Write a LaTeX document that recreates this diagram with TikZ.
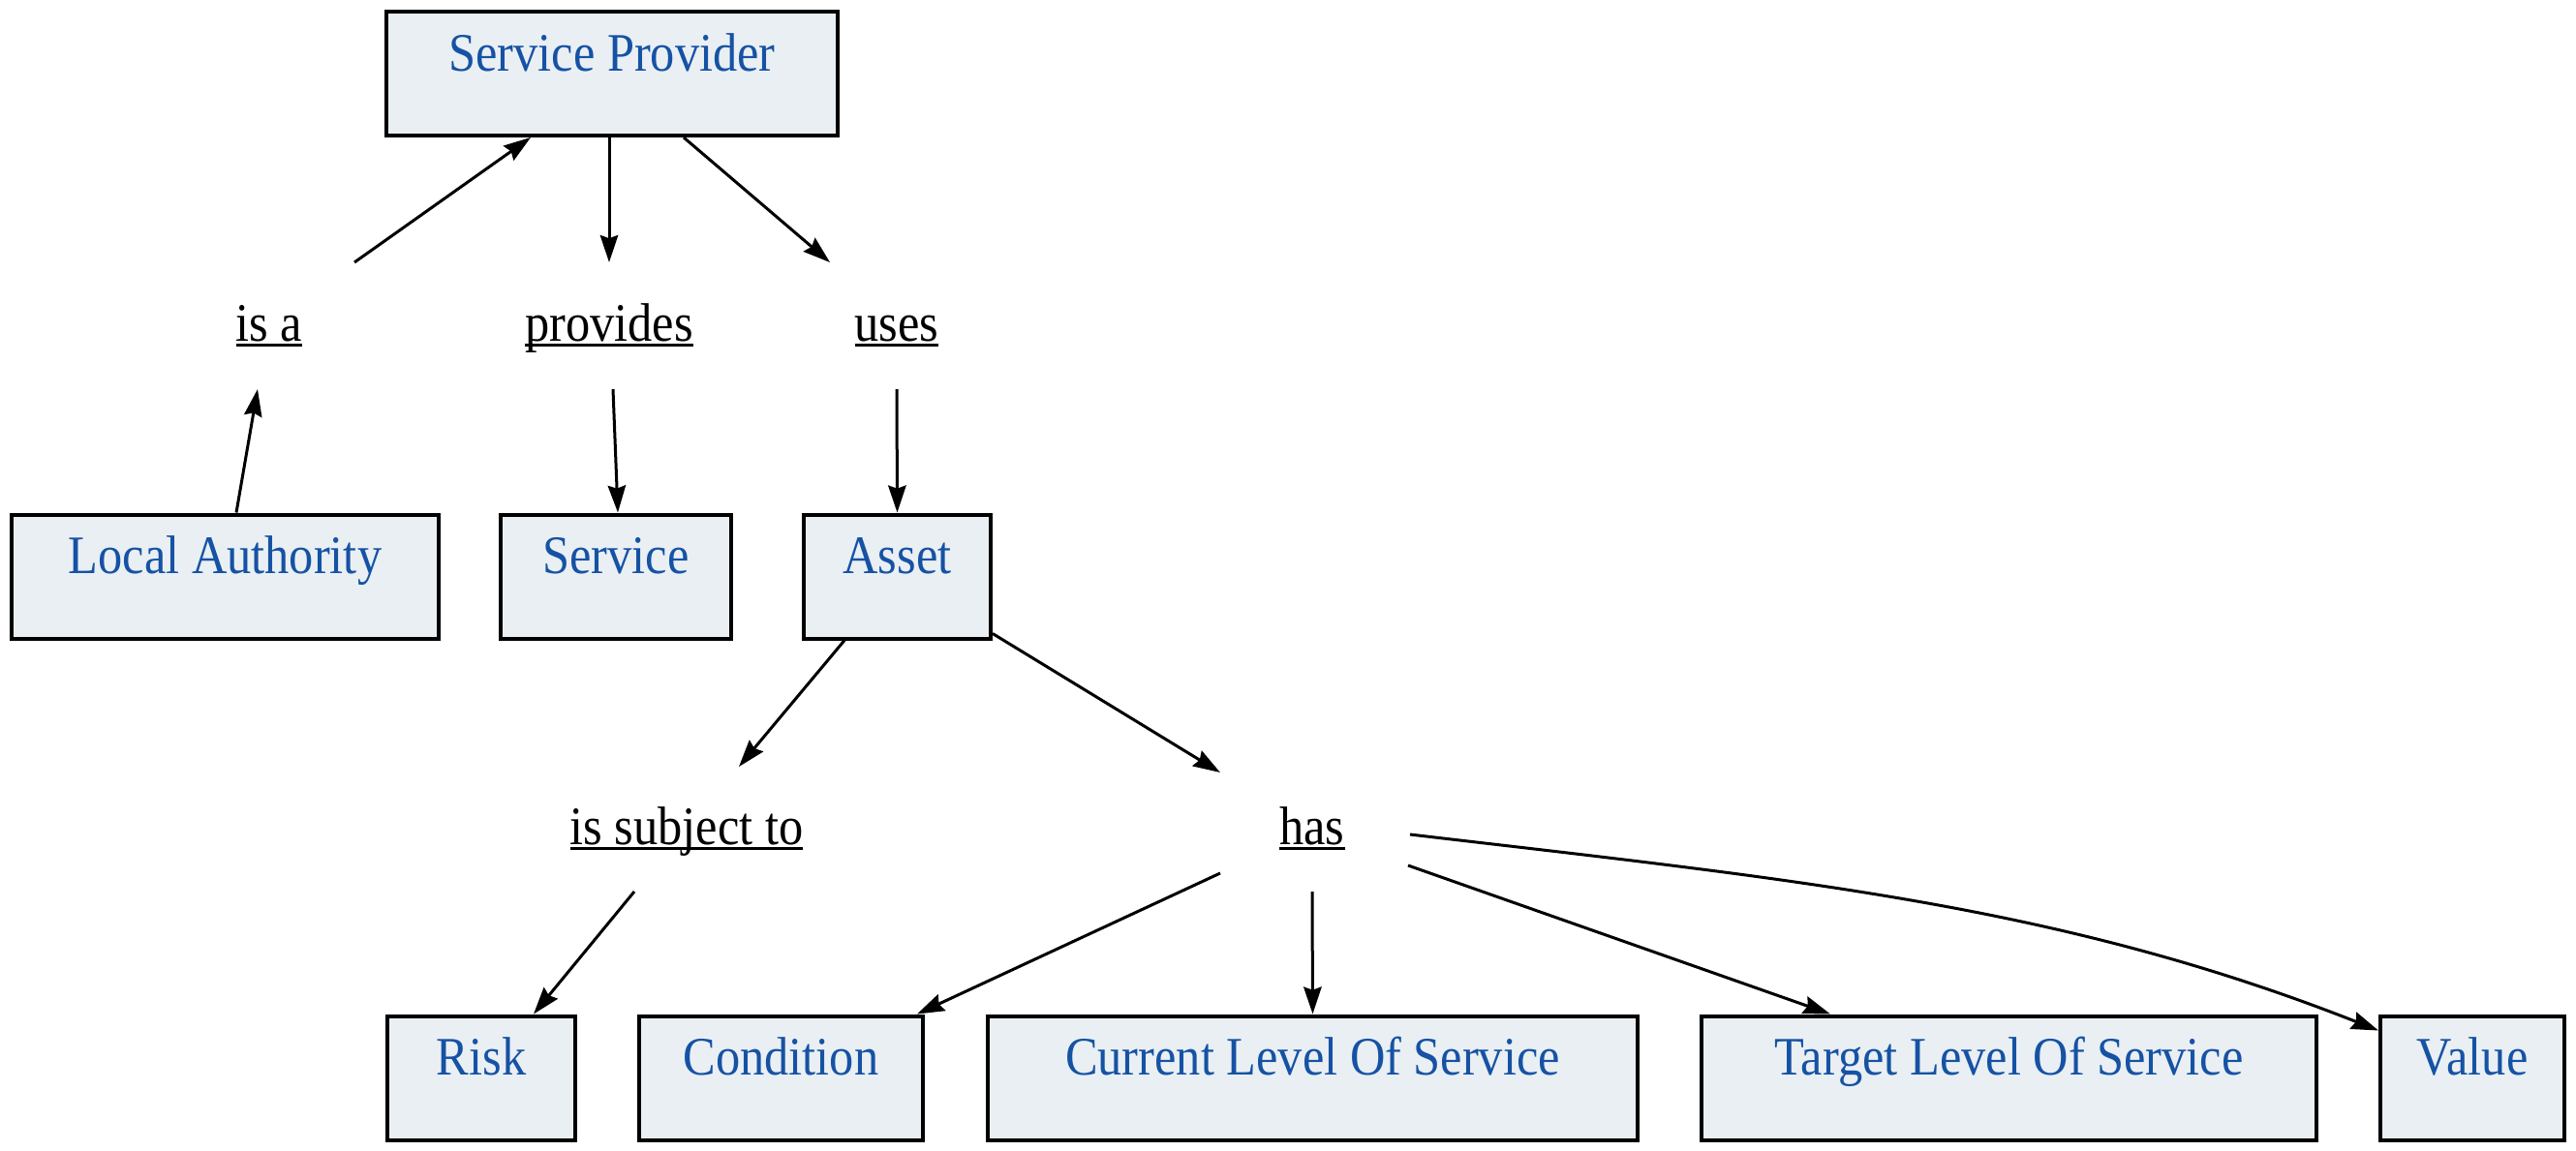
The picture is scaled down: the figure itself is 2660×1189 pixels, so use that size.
\documentclass[tikz,border=0pt]{standalone}
\usepackage{fontspec}
\setmainfont{Liberation Serif}[FakeStretch=0.9]
\usepackage{tikz}
\usetikzlibrary{calc}
\usetikzlibrary{positioning}
\usetikzlibrary{arrows.meta}

\definecolor{boxfill}{RGB}{233,239,243}
\definecolor{boxtext}{RGB}{22,82,164}

% underline at a fixed depth, through the descenders
\newsavebox{\relbox}
\newcommand{\relul}[1]{\sbox{\relbox}{#1}\rlap{\rule[-1.4pt]{\wd\relbox}{0.6pt}}\usebox{\relbox}}

\tikzset{
  box/.style={draw=black, line width=1pt, fill=boxfill, text=boxtext,
    font=\fontsize{14pt}{17pt}\selectfont, inner sep=0pt,
    text height=15.25pt, text depth=16.75pt},
  rel/.style={font=\fontsize{14pt}{17pt}\selectfont, inner sep=0pt, anchor=base},
  arr/.style={line width=0.75pt, -{Stealth[length=7pt,width=4.6pt,inset=0.8pt]}}
}

\begin{document}
\begin{tikzpicture}[x=0.25pt,y=0.25pt,yscale=-1,xscale=1]
        \useasboundingbox (0,0) rectangle (2660,1189);

        %Shape: Rectangle [Service Provider]
        \node [box, minimum width=116.5pt] (sp) at (632,76) {Service Provider};
        %Shape: Rectangle [Local Authority]
        \node [box, minimum width=110.25pt] (la) at (232.5,595.5) {Local Authority};
        %Shape: Rectangle [Service]
        \node [box, minimum width=59.5pt] (svc) at (636,595.5) {Service};
        %Shape: Rectangle [Asset]
        \node [box, minimum width=48.25pt] (asset) at (926.5,595.5) {Asset};
        %Shape: Rectangle [Risk]
        \node [box, minimum width=48.5pt] (risk) at (497,1113.5) {Risk};
        %Shape: Rectangle [Condition]
        \node [box, minimum width=73.25pt] (cond) at (806.5,1113.5) {Condition};
        %Shape: Rectangle [Current Level Of Service]
        \node [box, minimum width=167.75pt] (cur) at (1355.5,1113.5) {Current Level Of Service};
        %Shape: Rectangle [Target Level Of Service]
        \node [box, minimum width=158.75pt] (tgt) at (2074.5,1113.5) {Target Level Of Service};
        %Shape: Rectangle [Value]
        \node [box, minimum width=47.5pt] (val) at (2553,1113.5) {Value};

        % Text Node
        \node [rel] (isa) at (278,352) {\relul{is a}};
        % Text Node
        \node [rel] (prov) at (629,352) {\relul{provides}};
        % Text Node
        \node [rel] (uses) at (926,352) {\relul{uses}};
        % Text Node
        \node [rel] (isst) at (709,872) {\relul{is subject to}};
        % Text Node
        \node [rel] (has) at (1355,872) {\relul{has}};

        %Straight Lines
        \draw [arr] ([shift={(11.5,0)}]la.north) -- ([shift={(-12,50)}]isa.base);
        \draw [arr] ([shift={(88,-81)}]isa.base) -- ([shift={(-84,0)}]sp.south);
        \draw [arr] ([shift={(-3,0)}]sp.south) -- ([shift={(0,-81)}]prov.base);
        \draw [arr] ([shift={(74,0)}]sp.south) -- ([shift={(-69,-81)}]uses.base);
        \draw [arr] ([shift={(4,50)}]prov.base) -- ([shift={(2,0)}]svc.north);
        \draw [arr] ([shift={(0,50)}]uses.base) -- (asset.north);
        \draw [arr] ([shift={(-54.5,0)}]asset.south) -- ([shift={(54,-80)}]isst.base);
        \draw [arr] ([shift={(0,-7)}]asset.south east) -- ([shift={(-95,-74)}]has.base);
        \draw [arr] ([shift={(-54,49)}]isst.base) -- ([shift={(54,0)}]risk.north);
        \draw [arr] ([shift={(-95,30)}]has.base) -- ([shift={(-8,0)}]cond.north east);
        \draw [arr] ([shift={(0,49)}]has.base) -- (cur.north);
        \draw [arr] ([shift={(99,22)}]has.base) -- ([shift={(-184.5,0)}]tgt.north);
        %Curve Lines
        \draw [arr] ([shift={(101,-10)}]has.base) .. controls +(400,47) and +(-330,-130) .. ([shift={(0,17)}]val.north west);

\end{tikzpicture}
\end{document}
